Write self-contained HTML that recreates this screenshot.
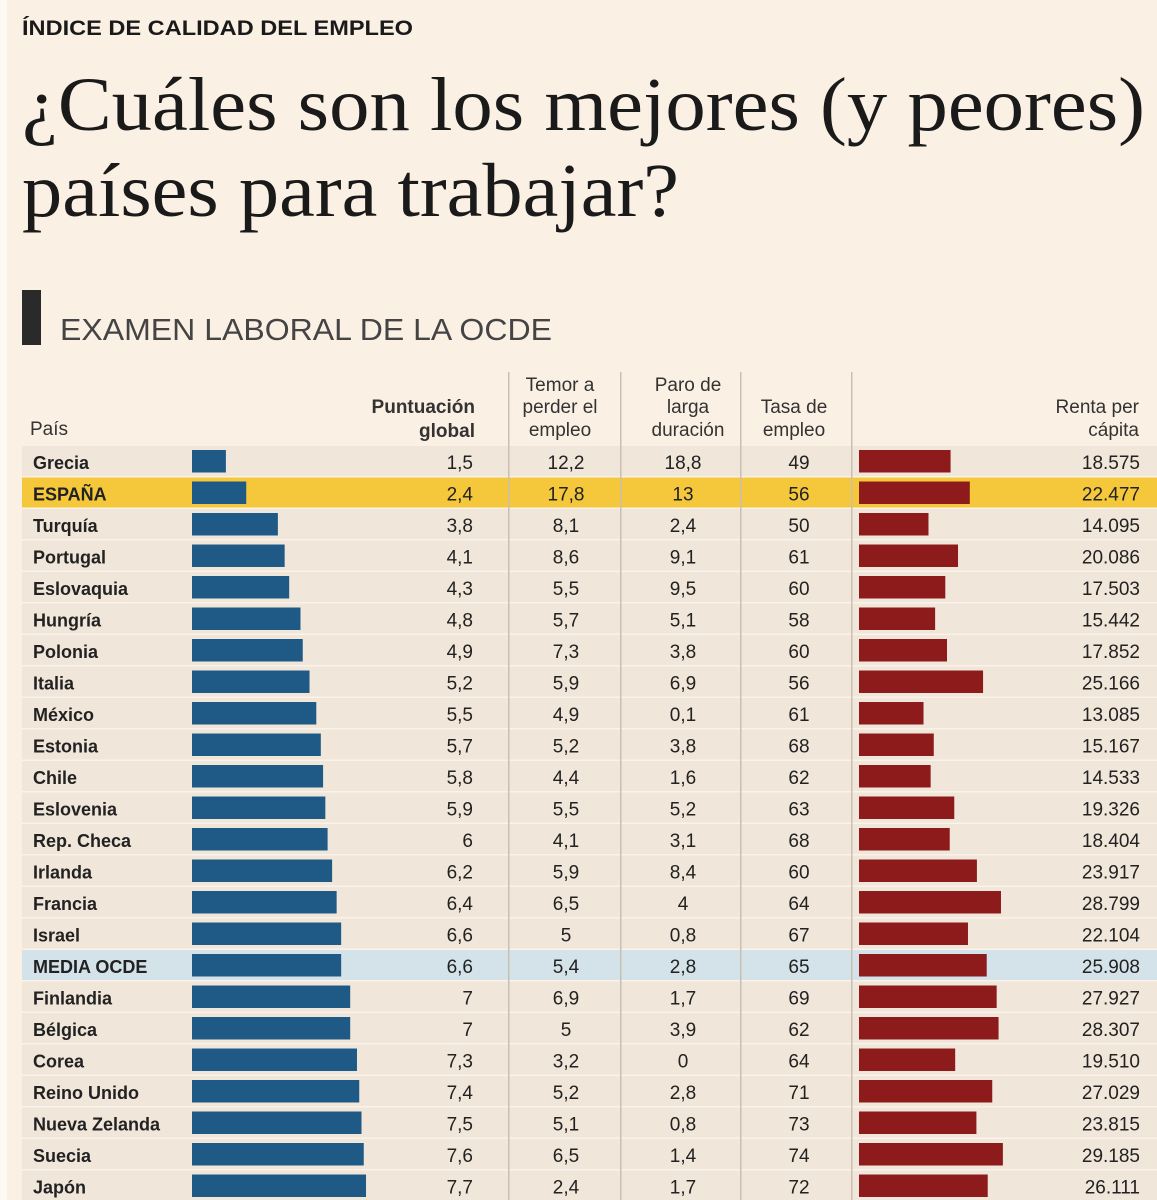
<!DOCTYPE html>
<html><head><meta charset="utf-8"><style>
html,body{margin:0;padding:0;background:#fbf0e4;}
svg{display:block;}
</style></head><body>
<svg id="chart" width="1157" height="1200" viewBox="0 0 1157 1200" xmlns="http://www.w3.org/2000/svg">
<rect x="0" y="0" width="1157" height="1200" fill="#fbf0e4"/>
<rect x="0" y="0" width="7" height="1200" fill="#fdf9f4"/>
<text x="22" y="35" font-family="Liberation Sans, sans-serif" font-weight="bold" font-size="21" fill="#1a1a1a" textLength="391" lengthAdjust="spacingAndGlyphs">ÍNDICE DE CALIDAD DEL EMPLEO</text>
<text x="22" y="130" font-family="Liberation Serif, serif" font-size="76" fill="#1a1a1a" textLength="1123" lengthAdjust="spacingAndGlyphs">¿Cuáles son los mejores (y peores)</text>
<text x="22" y="216" font-family="Liberation Serif, serif" font-size="76" fill="#1a1a1a" textLength="657" lengthAdjust="spacingAndGlyphs">países para trabajar?</text>
<rect x="22" y="290" width="19" height="55" fill="#2a2a2a"/>
<text x="60" y="340" font-family="Liberation Sans, sans-serif" font-size="31" fill="#444" textLength="492" lengthAdjust="spacingAndGlyphs">EXAMEN LABORAL DE LA OCDE</text>
<g id="header" font-family="Liberation Sans, sans-serif" font-size="19" fill="#333">
<text x="30" y="435">País</text>
<text x="475" y="413" text-anchor="end" font-weight="bold">Puntuación</text>
<text x="475" y="437" text-anchor="end" font-weight="bold">global</text>
<text x="560" y="391" text-anchor="middle">Temor a</text>
<text x="560" y="413" text-anchor="middle">perder el</text>
<text x="560" y="436" text-anchor="middle">empleo</text>
<text x="688" y="391" text-anchor="middle">Paro de</text>
<text x="688" y="413" text-anchor="middle">larga</text>
<text x="688" y="436" text-anchor="middle">duración</text>
<text x="794" y="413" text-anchor="middle">Tasa de</text>
<text x="794" y="436" text-anchor="middle">empleo</text>
<text x="1139" y="413" text-anchor="end">Renta per</text>
<text x="1139" y="436" text-anchor="end">cápita</text>
</g>
<g id="rows"></g>
<g id="seps"></g>
</svg>
<script>
const countries = ["Grecia","ESPAÑA","Turquía","Portugal","Eslovaquia","Hungría","Polonia","Italia","México","Estonia","Chile","Eslovenia","Rep. Checa","Irlanda","Francia","Israel","MEDIA OCDE","Finlandia","Bélgica","Corea","Reino Unido","Nueva Zelanda","Suecia","Japón"];
const globalScore = [1.5,2.4,3.8,4.1,4.3,4.8,4.9,5.2,5.5,5.7,5.8,5.9,6,6.2,6.4,6.6,6.6,7,7,7.3,7.4,7.5,7.6,7.7];
const fearJobLoss = [12.2,17.8,8.1,8.6,5.5,5.7,7.3,5.9,4.9,5.2,4.4,5.5,4.1,5.9,6.5,5,5.4,6.9,5,3.2,5.2,5.1,6.5,2.4];
const longUnemp = [18.8,13,2.4,9.1,9.5,5.1,3.8,6.9,0.1,3.8,1.6,5.2,3.1,8.4,4,0.8,2.8,1.7,3.9,0,2.8,0.8,1.4,1.7];
const employRate = [49,56,50,61,60,58,60,56,61,68,62,63,68,60,64,67,65,69,62,64,71,73,74,72];
const income = [18575,22477,14095,20086,17503,15442,17852,25166,13085,15167,14533,19326,18404,23917,28799,22104,25908,27927,28307,19510,27029,23815,29185,26111];

const NS='http://www.w3.org/2000/svg';
const rowTop = i => 446 + i*31.5;
const rowH = 31.5;
const xBlue = v => v*22.6;
const xRed = v => v*0.00493;
const fmtDec = v => String(v).replace('.',',');
const fmtThou = v => String(v).replace(/\B(?=(\d{3})+(?!\d))/g,'.');
const g = document.getElementById('rows');
function mk(tag, attrs){const e=document.createElementNS(NS,tag);for(const k in attrs)e.setAttribute(k,attrs[k]);return e;}
countries.forEach((c,i)=>{
  const t=rowTop(i);
  let fill = c==='ESPAÑA' ? '#f5c83c' : (c==='MEDIA OCDE' ? '#d3e3e9' : '#f1e6da');
  const bg=mk('rect',{x:22,y:t,width:1135,height:rowH,fill:fill});
  
  
  g.appendChild(bg);
  const ln=mk('rect',{x:22,y:t+rowH-1.5,width:1135,height:1.5,fill:'#fbf3ea'});
  
  
  g.appendChild(ln);
  const b=mk('rect',{x:192,y:t+4,width:xBlue(globalScore[i]),height:rowH-9,fill:'#1f5a86'});
  
  
  g.appendChild(b);
  const r=mk('rect',{x:859,y:t+4,width:xRed(income[i]),height:rowH-9,fill:'#8e1b1c'});
  
  
  g.appendChild(r);
  const by=t+23;
  const cells=[
    [33,'start',c,'country-name','bold'],
    [473,'end',fmtDec(globalScore[i]),'value-global','normal'],
    [566,'middle',fmtDec(fearJobLoss[i]),'value-fear','normal'],
    [683,'middle',fmtDec(longUnemp[i]),'value-long-unemployment','normal'],
    [799,'middle',String(employRate[i]),'value-employment-rate','normal'],
    [1140,'end',fmtThou(income[i]),'value-income','normal']
  ];
  cells.forEach(([x,a,txt,name,w])=>{
    const e=mk('text',{x:x,y:by,'text-anchor':a,'font-family':'Liberation Sans, sans-serif','font-size':w==='bold'?18:19,'font-weight':w,fill:'#222'});
    e.textContent=txt;
    
    
    g.appendChild(e);
  });
});
const s=document.getElementById('seps');
[508,620,740,851].forEach(x=>{
  const l=mk('rect',{x:x,y:372,width:1.5,height:828,fill:'#c9bfb3'});
  
  
  s.appendChild(l);
});
</script>
</body></html>
